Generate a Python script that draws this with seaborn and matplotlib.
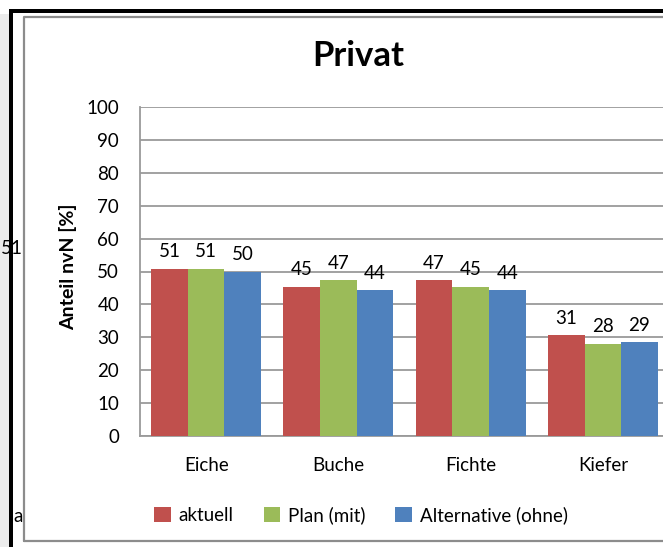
import matplotlib
matplotlib.use("Agg")
import matplotlib.pyplot as plt
import seaborn as sns
import pandas as pd
from matplotlib.patches import Rectangle, Patch
from matplotlib.lines import Line2D

categories = ["Eiche", "Buche", "Fichte", "Kiefer"]
series = ["aktuell", "Plan (mit)", "Alternative (ohne)"]
aktuell = [50.9, 45.4, 47.4, 30.6]
plan_mit = [50.9, 47.4, 45.4, 28.1]
alternative_ohne = [49.9, 44.4, 44.4, 28.6]
y_ticks = [0, 10, 20, 30, 40, 50, 60, 70, 80, 90, 100]
title = "Privat"
y_label = "Anteil nvN [%]"
colors = ["#C0504D", "#9BBB59", "#4F81BD"]

rows = []
for s, vals in zip(series, [aktuell, plan_mit, alternative_ohne]):
    for c, v in zip(categories, vals):
        rows.append({"Baumart": c, "Szenario": s, "Anteil": v})
df = pd.DataFrame(rows)

sns.set_theme(style="white")
FONT = ["Lato", "DejaVu Sans"]
plt.rcParams["font.family"] = FONT
plt.rcParams["text.color"] = "black"
plt.rcParams["xtick.color"] = "black"
plt.rcParams["ytick.color"] = "black"

W, H = 663, 547
fig = plt.figure(figsize=(W / 100, H / 100), dpi=100)
fig.patch.set_facecolor("white")


def fx(x):
    return x / W


def fy(y):
    return 1 - y / H


# plot area (its right edge lies beyond the cropped image)
left, right, top, bottom = 140, 669, 107, 436
ax = fig.add_axes([fx(left), fy(bottom), (right - left) / W, (bottom - top) / H])

sns.barplot(data=df, x="Baumart", y="Anteil", hue="Szenario", hue_order=series,
            order=categories, palette=colors, width=0.83, linewidth=0,
            saturation=1, legend=False, ax=ax, zorder=3)

ax.set_ylim(0, 100)
ax.set_xlim(-0.5, 3.5)
ax.set_yticks(y_ticks)
ax.set_yticklabels([str(t) for t in y_ticks])
ax.set_xlabel("")
ax.set_ylabel("")
grid_c = "#9a9a9a"
ax.yaxis.grid(True, color=grid_c, linewidth=1.3, zorder=0)
ax.xaxis.grid(False)
ax.set_axisbelow(True)
for sp in ["top", "right"]:
    ax.spines[sp].set_visible(False)
for sp in ["left", "bottom"]:
    ax.spines[sp].set_color(grid_c)
    ax.spines[sp].set_linewidth(1.3)
ax.tick_params(axis="y", length=0, pad=15, labelsize=13.5, labelcolor="black")
ax.tick_params(axis="x", length=0, pad=15, labelsize=13.5, labelcolor="black")

for cont in ax.containers:
    vals = [b.get_height() for b in cont]
    ax.bar_label(cont, labels=[f"{v:.0f}" for v in vals], padding=6,
                 fontsize=13.5, color="black")

# title and axis label
fig.text(fx(358), fy(56), title, ha="center", va="center",
         fontsize=25, fontweight="bold", color="black")
fig.text(fx(68), fy(267), y_label, ha="center", va="center", rotation=90,
         fontsize=14, fontweight="bold", color="black")

# legend
handles = [Patch(facecolor=c, edgecolor="none", label=s) for c, s in zip(colors, series)]
fig.legend(handles=handles, loc="center", bbox_to_anchor=(fx(361), fy(515)),
           ncol=3, frameon=False, fontsize=13.5, handlelength=0.9,
           handleheight=0.9, handletextpad=0.4, columnspacing=1.6)

# cropped leftovers at the left edge
fig.text(fx(12), fy(248), "51", ha="center", va="center", fontsize=13.5, zorder=1)
fig.text(fx(18), fy(516), "a", ha="center", va="center", fontsize=13.5, zorder=1)

# frame decorations
fig.add_artist(Rectangle((0, 0), fx(9), fy(14), transform=fig.transFigure,
                         facecolor="#ececec", edgecolor="none", zorder=0))
fig.add_artist(Rectangle((fx(9), 0), fx(4), fy(9), transform=fig.transFigure,
                         facecolor="black", edgecolor="none", zorder=5))
fig.add_artist(Rectangle((fx(9), fy(13)), 1, 4 / H, transform=fig.transFigure,
                         facecolor="black", edgecolor="none", zorder=5))
fig.add_artist(Line2D([fx(24), fx(24), 1.01], [fy(541), fy(16.5), fy(16.5)],
                      transform=fig.transFigure, color="#8c8c8c", linewidth=1.6, zorder=5))
fig.add_artist(Line2D([fx(24), 1.01], [fy(541), fy(541)],
                      transform=fig.transFigure, color="#8c8c8c", linewidth=1.6, zorder=5))

fig.savefig("out.png", dpi=100)
